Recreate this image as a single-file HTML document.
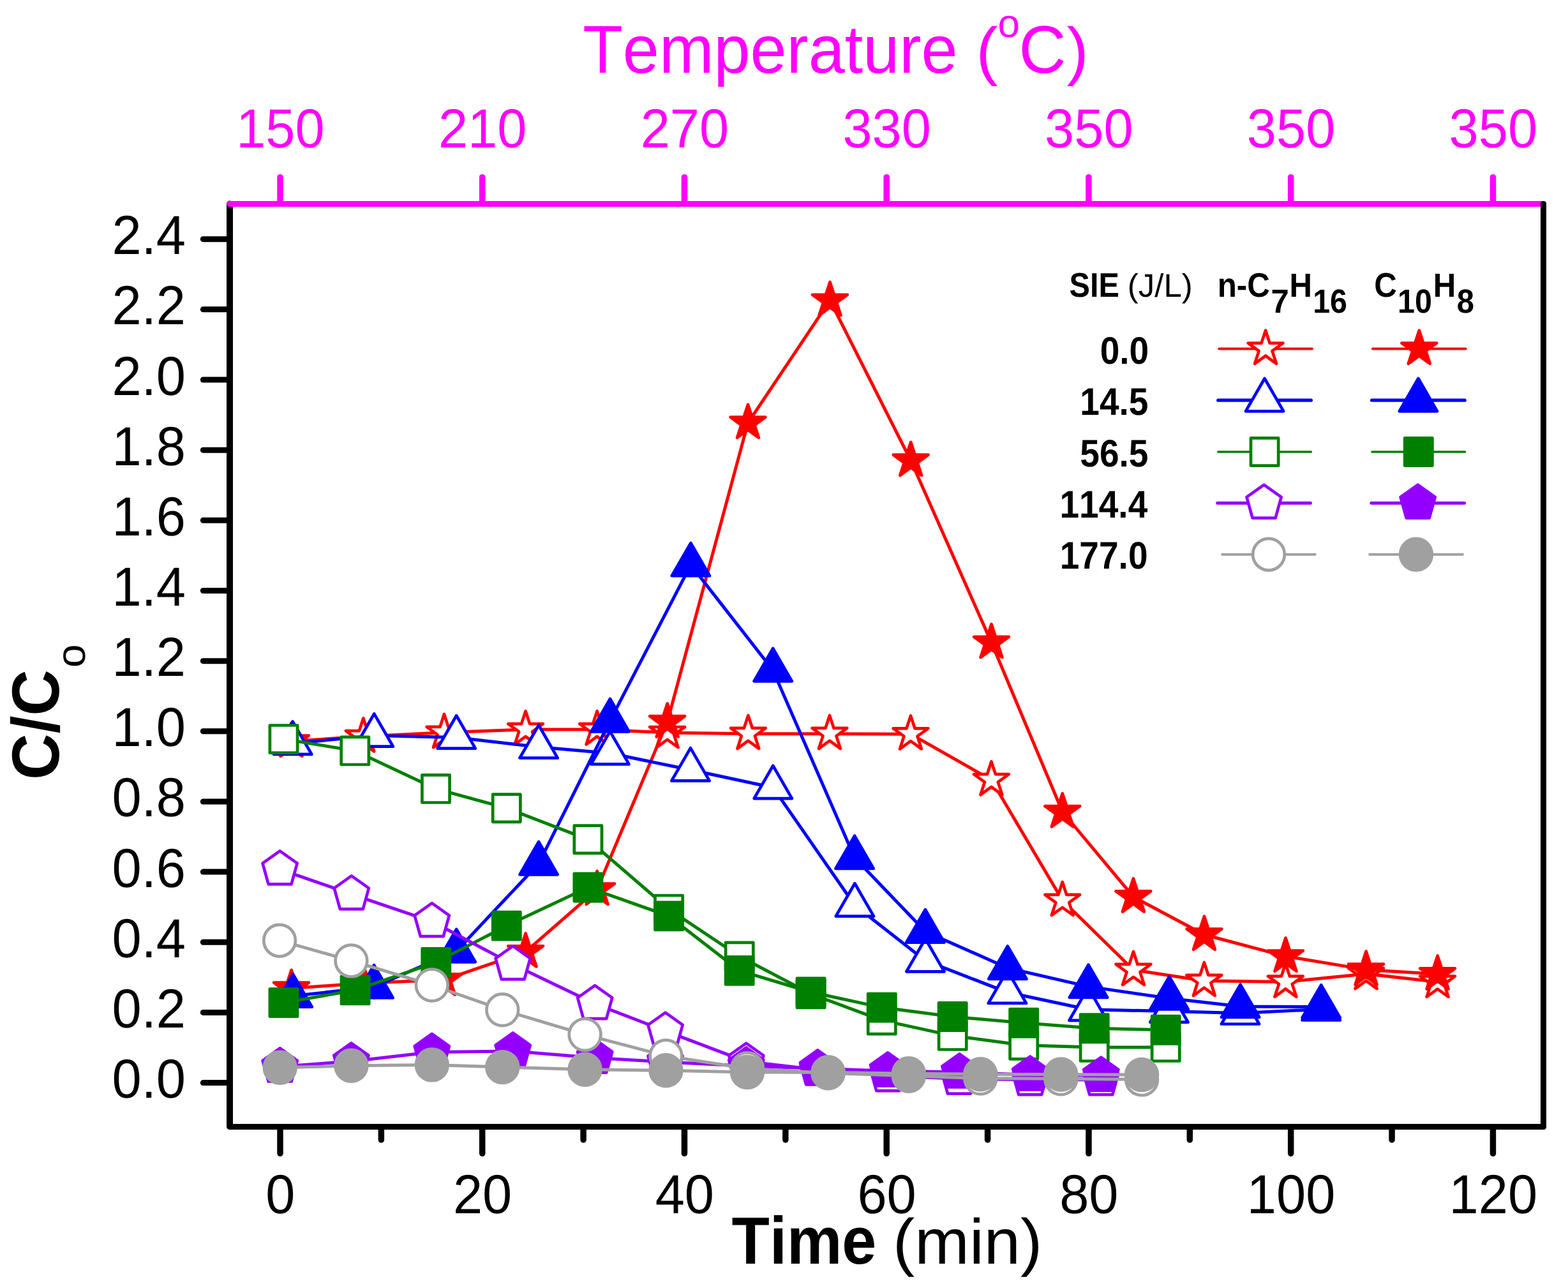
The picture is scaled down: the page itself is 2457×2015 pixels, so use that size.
<!DOCTYPE html>
<html lang="en">
<head>
<meta charset="utf-8">
<title>C/Co vs Time</title>
<style>
html, body { margin: 0; padding: 0; background: #fff; }
body { width: 2457px; height: 2015px; overflow: hidden; }
svg { display: block; }
</style>
</head>
<body>
<svg width="2457" height="2015" viewBox="0 0 2457 2015">
<rect width="2457" height="2015" fill="#fff"/>
<g id="plot" stroke-width="5" stroke-linejoin="round" stroke-linecap="round">
<g class="red_open">
<polyline fill="none" stroke="#ff0000" points="456.5,1161.5 569.3,1154.1 696,1147.8 823.6,1143 935.6,1143 1045.7,1147.9 1172.4,1149.7 1300,1149.7 1427,1150.2 1553.4,1222 1664.8,1410.8 1776,1519.8 1886.9,1536.7 2014.4,1538.5 2140.6,1525.9 2252.6,1538.6"/>
<g stroke-width="4.7">
<polygon points="456.5,1132.7 462.97,1152.6 483.89,1152.6 466.96,1164.9 473.43,1184.8 456.5,1172.5 439.57,1184.8 446.04,1164.9 429.11,1152.6 450.03,1152.6" fill="#fff" stroke="#ff0000"/>
<polygon points="569.3,1125.3 575.77,1145.2 596.69,1145.2 579.76,1157.5 586.23,1177.4 569.3,1165.1 552.37,1177.4 558.84,1157.5 541.91,1145.2 562.83,1145.2" fill="#fff" stroke="#ff0000"/>
<polygon points="696,1119 702.47,1138.9 723.39,1138.9 706.46,1151.2 712.93,1171.1 696,1158.8 679.07,1171.1 685.54,1151.2 668.61,1138.9 689.53,1138.9" fill="#fff" stroke="#ff0000"/>
<polygon points="823.6,1114.2 830.07,1134.1 850.99,1134.1 834.06,1146.4 840.53,1166.3 823.6,1154 806.67,1166.3 813.14,1146.4 796.21,1134.1 817.13,1134.1" fill="#fff" stroke="#ff0000"/>
<polygon points="935.6,1114.2 942.07,1134.1 962.99,1134.1 946.06,1146.4 952.53,1166.3 935.6,1154 918.67,1166.3 925.14,1146.4 908.21,1134.1 929.13,1134.1" fill="#fff" stroke="#ff0000"/>
<polygon points="1045.7,1119.1 1052.17,1139 1073.09,1139 1056.16,1151.3 1062.63,1171.2 1045.7,1158.9 1028.77,1171.2 1035.24,1151.3 1018.31,1139 1039.23,1139" fill="#fff" stroke="#ff0000"/>
<polygon points="1172.4,1120.9 1178.87,1140.8 1199.79,1140.8 1182.86,1153.1 1189.33,1173 1172.4,1160.7 1155.47,1173 1161.94,1153.1 1145.01,1140.8 1165.93,1140.8" fill="#fff" stroke="#ff0000"/>
<polygon points="1300,1120.9 1306.47,1140.8 1327.39,1140.8 1310.46,1153.1 1316.93,1173 1300,1160.7 1283.07,1173 1289.54,1153.1 1272.61,1140.8 1293.53,1140.8" fill="#fff" stroke="#ff0000"/>
<polygon points="1427,1121.4 1433.47,1141.3 1454.39,1141.3 1437.46,1153.6 1443.93,1173.5 1427,1161.2 1410.07,1173.5 1416.54,1153.6 1399.61,1141.3 1420.53,1141.3" fill="#fff" stroke="#ff0000"/>
<polygon points="1553.4,1193.2 1559.87,1213.1 1580.79,1213.1 1563.86,1225.4 1570.33,1245.3 1553.4,1233 1536.47,1245.3 1542.94,1225.4 1526.01,1213.1 1546.93,1213.1" fill="#fff" stroke="#ff0000"/>
<polygon points="1664.8,1382 1671.27,1401.9 1692.19,1401.9 1675.26,1414.2 1681.73,1434.1 1664.8,1421.8 1647.87,1434.1 1654.34,1414.2 1637.41,1401.9 1658.33,1401.9" fill="#fff" stroke="#ff0000"/>
<polygon points="1776,1491 1782.47,1510.9 1803.39,1510.9 1786.46,1523.2 1792.93,1543.1 1776,1530.8 1759.07,1543.1 1765.54,1523.2 1748.61,1510.9 1769.53,1510.9" fill="#fff" stroke="#ff0000"/>
<polygon points="1886.9,1507.9 1893.37,1527.8 1914.29,1527.8 1897.36,1540.1 1903.83,1560 1886.9,1547.7 1869.97,1560 1876.44,1540.1 1859.51,1527.8 1880.43,1527.8" fill="#fff" stroke="#ff0000"/>
<polygon points="2014.4,1509.7 2020.87,1529.6 2041.79,1529.6 2024.86,1541.9 2031.33,1561.8 2014.4,1549.5 1997.47,1561.8 2003.94,1541.9 1987.01,1529.6 2007.93,1529.6" fill="#fff" stroke="#ff0000"/>
<polygon points="2140.6,1497.1 2147.07,1517 2167.99,1517 2151.06,1529.3 2157.53,1549.2 2140.6,1536.9 2123.67,1549.2 2130.14,1529.3 2113.21,1517 2134.13,1517" fill="#fff" stroke="#ff0000"/>
<polygon points="2252.6,1509.8 2259.07,1529.7 2279.99,1529.7 2263.06,1542 2269.53,1561.9 2252.6,1549.6 2235.67,1561.9 2242.14,1542 2225.21,1529.7 2246.13,1529.7" fill="#fff" stroke="#ff0000"/>
</g>
</g>
<g class="red_fill">
<polyline fill="none" stroke="#ff0000" points="456.6,1548.6 569.3,1540.6 696,1535.3 823.6,1491.3 935.6,1393.6 1045.7,1131.1 1172,662.6 1300.5,470.7 1427.2,721.6 1553.5,1006.7 1664.8,1272 1775.9,1405.2 1887,1464.5 2014.5,1498.4 2140.6,1519.4 2252.6,1526.2"/>
<g stroke-width="4.7">
<polygon points="456.6,1519.8 463.07,1539.7 483.99,1539.7 467.06,1552 473.53,1571.9 456.6,1559.6 439.67,1571.9 446.14,1552 429.21,1539.7 450.13,1539.7" fill="#ff0000" stroke="#ff0000"/>
<polygon points="569.3,1511.8 575.77,1531.7 596.69,1531.7 579.76,1544 586.23,1563.9 569.3,1551.6 552.37,1563.9 558.84,1544 541.91,1531.7 562.83,1531.7" fill="#ff0000" stroke="#ff0000"/>
<polygon points="696,1506.5 702.47,1526.4 723.39,1526.4 706.46,1538.7 712.93,1558.6 696,1546.3 679.07,1558.6 685.54,1538.7 668.61,1526.4 689.53,1526.4" fill="#ff0000" stroke="#ff0000"/>
<polygon points="823.6,1462.5 830.07,1482.4 850.99,1482.4 834.06,1494.7 840.53,1514.6 823.6,1502.3 806.67,1514.6 813.14,1494.7 796.21,1482.4 817.13,1482.4" fill="#ff0000" stroke="#ff0000"/>
<polygon points="935.6,1364.8 942.07,1384.7 962.99,1384.7 946.06,1397 952.53,1416.9 935.6,1404.6 918.67,1416.9 925.14,1397 908.21,1384.7 929.13,1384.7" fill="#ff0000" stroke="#ff0000"/>
<polygon points="1045.7,1102.3 1052.17,1122.2 1073.09,1122.2 1056.16,1134.5 1062.63,1154.4 1045.7,1142.1 1028.77,1154.4 1035.24,1134.5 1018.31,1122.2 1039.23,1122.2" fill="#ff0000" stroke="#ff0000"/>
<polygon points="1172,633.8 1178.47,653.7 1199.39,653.7 1182.46,666 1188.93,685.9 1172,673.6 1155.07,685.9 1161.54,666 1144.61,653.7 1165.53,653.7" fill="#ff0000" stroke="#ff0000"/>
<polygon points="1300.5,441.9 1306.97,461.8 1327.89,461.8 1310.96,474.1 1317.43,494 1300.5,481.7 1283.57,494 1290.04,474.1 1273.11,461.8 1294.03,461.8" fill="#ff0000" stroke="#ff0000"/>
<polygon points="1427.2,692.8 1433.67,712.7 1454.59,712.7 1437.66,725 1444.13,744.9 1427.2,732.6 1410.27,744.9 1416.74,725 1399.81,712.7 1420.73,712.7" fill="#ff0000" stroke="#ff0000"/>
<polygon points="1553.5,977.9 1559.97,997.8 1580.89,997.8 1563.96,1010.1 1570.43,1030 1553.5,1017.7 1536.57,1030 1543.04,1010.1 1526.11,997.8 1547.03,997.8" fill="#ff0000" stroke="#ff0000"/>
<polygon points="1664.8,1243.2 1671.27,1263.1 1692.19,1263.1 1675.26,1275.4 1681.73,1295.3 1664.8,1283 1647.87,1295.3 1654.34,1275.4 1637.41,1263.1 1658.33,1263.1" fill="#ff0000" stroke="#ff0000"/>
<polygon points="1775.9,1376.4 1782.37,1396.3 1803.29,1396.3 1786.36,1408.6 1792.83,1428.5 1775.9,1416.2 1758.97,1428.5 1765.44,1408.6 1748.51,1396.3 1769.43,1396.3" fill="#ff0000" stroke="#ff0000"/>
<polygon points="1887,1435.7 1893.47,1455.6 1914.39,1455.6 1897.46,1467.9 1903.93,1487.8 1887,1475.5 1870.07,1487.8 1876.54,1467.9 1859.61,1455.6 1880.53,1455.6" fill="#ff0000" stroke="#ff0000"/>
<polygon points="2014.5,1469.6 2020.97,1489.5 2041.89,1489.5 2024.96,1501.8 2031.43,1521.7 2014.5,1509.4 1997.57,1521.7 2004.04,1501.8 1987.11,1489.5 2008.03,1489.5" fill="#ff0000" stroke="#ff0000"/>
<polygon points="2140.6,1490.6 2147.07,1510.5 2167.99,1510.5 2151.06,1522.8 2157.53,1542.7 2140.6,1530.4 2123.67,1542.7 2130.14,1522.8 2113.21,1510.5 2134.13,1510.5" fill="#ff0000" stroke="#ff0000"/>
<polygon points="2252.6,1497.4 2259.07,1517.3 2279.99,1517.3 2263.06,1529.6 2269.53,1549.5 2252.6,1537.2 2235.67,1549.5 2242.14,1529.6 2225.21,1517.3 2246.13,1517.3" fill="#ff0000" stroke="#ff0000"/>
</g>
</g>
<g class="blue_open">
<polyline fill="none" stroke="#0000ff" points="458.7,1164.8 586.3,1152.6 715.2,1155.5 844.1,1170.5 955.9,1180.3 1082,1206.3 1211.3,1234 1339.4,1418.5 1450,1505.2 1578.4,1554.8 1705.1,1581.7 1832,1584.6 1943.5,1587.4 2070.2,1581.4"/>
<g stroke-width="4.7">
<polygon points="458.7,1130.56 488.35,1181.92 429.05,1181.92" fill="#fff" stroke="#0000ff"/>
<polygon points="586.3,1118.36 615.95,1169.72 556.65,1169.72" fill="#fff" stroke="#0000ff"/>
<polygon points="715.2,1121.26 744.85,1172.62 685.55,1172.62" fill="#fff" stroke="#0000ff"/>
<polygon points="844.1,1136.26 873.75,1187.62 814.45,1187.62" fill="#fff" stroke="#0000ff"/>
<polygon points="955.9,1146.06 985.55,1197.42 926.25,1197.42" fill="#fff" stroke="#0000ff"/>
<polygon points="1082,1172.06 1111.65,1223.42 1052.35,1223.42" fill="#fff" stroke="#0000ff"/>
<polygon points="1211.3,1199.76 1240.95,1251.12 1181.65,1251.12" fill="#fff" stroke="#0000ff"/>
<polygon points="1339.4,1384.26 1369.05,1435.62 1309.75,1435.62" fill="#fff" stroke="#0000ff"/>
<polygon points="1450,1470.96 1479.65,1522.32 1420.35,1522.32" fill="#fff" stroke="#0000ff"/>
<polygon points="1578.4,1520.56 1608.05,1571.92 1548.75,1571.92" fill="#fff" stroke="#0000ff"/>
<polygon points="1705.1,1547.46 1734.75,1598.82 1675.45,1598.82" fill="#fff" stroke="#0000ff"/>
<polygon points="1832,1550.36 1861.65,1601.72 1802.35,1601.72" fill="#fff" stroke="#0000ff"/>
<polygon points="1943.5,1553.16 1973.15,1604.52 1913.85,1604.52" fill="#fff" stroke="#0000ff"/>
<polygon points="2070.2,1547.16 2099.85,1598.52 2040.55,1598.52" fill="#fff" stroke="#0000ff"/>
</g>
</g>
<g class="blue_fill">
<polyline fill="none" stroke="#0000ff" points="459.1,1560.6 586,1546.4 715.2,1490.2 844.1,1353.2 956,1129.2 1082.4,885.1 1211.2,1050.2 1339.1,1343.9 1449.9,1459.5 1578.9,1516.7 1705.5,1545.9 1832.2,1564.3 1943.6,1576.9 2070.2,1577.6"/>
<g stroke-width="4.7">
<polygon points="459.1,1526.36 488.75,1577.72 429.45,1577.72" fill="#0000ff" stroke="#0000ff"/>
<polygon points="586,1512.16 615.65,1563.52 556.35,1563.52" fill="#0000ff" stroke="#0000ff"/>
<polygon points="715.2,1455.96 744.85,1507.32 685.55,1507.32" fill="#0000ff" stroke="#0000ff"/>
<polygon points="844.1,1318.96 873.75,1370.32 814.45,1370.32" fill="#0000ff" stroke="#0000ff"/>
<polygon points="956,1094.96 985.65,1146.32 926.35,1146.32" fill="#0000ff" stroke="#0000ff"/>
<polygon points="1082.4,850.86 1112.05,902.22 1052.75,902.22" fill="#0000ff" stroke="#0000ff"/>
<polygon points="1211.2,1015.96 1240.85,1067.32 1181.55,1067.32" fill="#0000ff" stroke="#0000ff"/>
<polygon points="1339.1,1309.66 1368.75,1361.02 1309.45,1361.02" fill="#0000ff" stroke="#0000ff"/>
<polygon points="1449.9,1425.26 1479.55,1476.62 1420.25,1476.62" fill="#0000ff" stroke="#0000ff"/>
<polygon points="1578.9,1482.46 1608.55,1533.82 1549.25,1533.82" fill="#0000ff" stroke="#0000ff"/>
<polygon points="1705.5,1511.66 1735.15,1563.02 1675.85,1563.02" fill="#0000ff" stroke="#0000ff"/>
<polygon points="1832.2,1530.06 1861.85,1581.42 1802.55,1581.42" fill="#0000ff" stroke="#0000ff"/>
<polygon points="1943.6,1542.66 1973.25,1594.02 1913.95,1594.02" fill="#0000ff" stroke="#0000ff"/>
<polygon points="2070.2,1543.36 2099.85,1594.72 2040.55,1594.72" fill="#0000ff" stroke="#0000ff"/>
</g>
</g>
<g class="green_open">
<polyline fill="none" stroke="#008000" points="444.5,1158.1 556.3,1176.4 683,1235.9 793.8,1266.2 921.4,1315.3 1048.1,1424.6 1158.7,1498.5 1270.6,1557.3 1381.8,1598.6 1492.7,1622.9 1604.2,1637.7 1714.7,1640.9 1826.7,1640.9"/>
<g stroke-width="4.7">
<rect x="422.9" y="1136.5" width="43.2" height="43.2" fill="#fff" stroke="#008000"/>
<rect x="534.7" y="1154.8" width="43.2" height="43.2" fill="#fff" stroke="#008000"/>
<rect x="661.4" y="1214.3" width="43.2" height="43.2" fill="#fff" stroke="#008000"/>
<rect x="772.2" y="1244.6" width="43.2" height="43.2" fill="#fff" stroke="#008000"/>
<rect x="899.8" y="1293.7" width="43.2" height="43.2" fill="#fff" stroke="#008000"/>
<rect x="1026.5" y="1403" width="43.2" height="43.2" fill="#fff" stroke="#008000"/>
<rect x="1137.1" y="1476.9" width="43.2" height="43.2" fill="#fff" stroke="#008000"/>
<rect x="1249" y="1535.7" width="43.2" height="43.2" fill="#fff" stroke="#008000"/>
<rect x="1360.2" y="1577" width="43.2" height="43.2" fill="#fff" stroke="#008000"/>
<rect x="1471.1" y="1601.3" width="43.2" height="43.2" fill="#fff" stroke="#008000"/>
<rect x="1582.6" y="1616.1" width="43.2" height="43.2" fill="#fff" stroke="#008000"/>
<rect x="1693.1" y="1619.3" width="43.2" height="43.2" fill="#fff" stroke="#008000"/>
<rect x="1805.1" y="1619.3" width="43.2" height="43.2" fill="#fff" stroke="#008000"/>
</g>
</g>
<g class="green_fill">
<polyline fill="none" stroke="#008000" points="444.5,1571.1 556.6,1551.4 683.3,1507.9 793.8,1450.6 921.4,1390.5 1048.1,1435.4 1158.7,1520.9 1270.6,1554.5 1381.8,1578.6 1492.7,1593 1604.2,1602.7 1714.7,1611.3 1826.7,1613.7"/>
<g stroke-width="4.7">
<rect x="422.9" y="1549.5" width="43.2" height="43.2" fill="#008000" stroke="#008000"/>
<rect x="535" y="1529.8" width="43.2" height="43.2" fill="#008000" stroke="#008000"/>
<rect x="661.7" y="1486.3" width="43.2" height="43.2" fill="#008000" stroke="#008000"/>
<rect x="772.2" y="1429" width="43.2" height="43.2" fill="#008000" stroke="#008000"/>
<rect x="899.8" y="1368.9" width="43.2" height="43.2" fill="#008000" stroke="#008000"/>
<rect x="1026.5" y="1413.8" width="43.2" height="43.2" fill="#008000" stroke="#008000"/>
<rect x="1137.1" y="1499.3" width="43.2" height="43.2" fill="#008000" stroke="#008000"/>
<rect x="1249" y="1532.9" width="43.2" height="43.2" fill="#008000" stroke="#008000"/>
<rect x="1360.2" y="1557" width="43.2" height="43.2" fill="#008000" stroke="#008000"/>
<rect x="1471.1" y="1571.4" width="43.2" height="43.2" fill="#008000" stroke="#008000"/>
<rect x="1582.6" y="1581.1" width="43.2" height="43.2" fill="#008000" stroke="#008000"/>
<rect x="1693.1" y="1589.7" width="43.2" height="43.2" fill="#008000" stroke="#008000"/>
<rect x="1805.1" y="1592.1" width="43.2" height="43.2" fill="#008000" stroke="#008000"/>
</g>
</g>
<g class="purple_open">
<polyline fill="none" stroke="#9400ff" points="438.6,1362.1 550.8,1401.1 676.8,1443.8 803.7,1511.1 932.2,1572.8 1042.6,1615.3 1169.3,1663.3 1281.2,1676.1 1391.3,1685.8 1503,1690.3 1614.2,1691.8 1725.3,1691.8"/>
<g stroke-width="4.7">
<polygon points="438.6,1333.4 465.7,1352.7 456.6,1385.4 420.6,1385.4 411.5,1352.7" fill="#fff" stroke="#9400ff"/>
<polygon points="550.8,1372.4 577.9,1391.7 568.8,1424.4 532.8,1424.4 523.7,1391.7" fill="#fff" stroke="#9400ff"/>
<polygon points="676.8,1415.1 703.9,1434.4 694.8,1467.1 658.8,1467.1 649.7,1434.4" fill="#fff" stroke="#9400ff"/>
<polygon points="803.7,1482.4 830.8,1501.7 821.7,1534.4 785.7,1534.4 776.6,1501.7" fill="#fff" stroke="#9400ff"/>
<polygon points="932.2,1544.1 959.3,1563.4 950.2,1596.1 914.2,1596.1 905.1,1563.4" fill="#fff" stroke="#9400ff"/>
<polygon points="1042.6,1586.6 1069.7,1605.9 1060.6,1638.6 1024.6,1638.6 1015.5,1605.9" fill="#fff" stroke="#9400ff"/>
<polygon points="1169.3,1634.6 1196.4,1653.9 1187.3,1686.6 1151.3,1686.6 1142.2,1653.9" fill="#fff" stroke="#9400ff"/>
<polygon points="1281.2,1647.4 1308.3,1666.7 1299.2,1699.4 1263.2,1699.4 1254.1,1666.7" fill="#fff" stroke="#9400ff"/>
<polygon points="1391.3,1657.1 1418.4,1676.4 1409.3,1709.1 1373.3,1709.1 1364.2,1676.4" fill="#fff" stroke="#9400ff"/>
<polygon points="1503,1661.6 1530.1,1680.9 1521,1713.6 1485,1713.6 1475.9,1680.9" fill="#fff" stroke="#9400ff"/>
<polygon points="1614.2,1663.1 1641.3,1682.4 1632.2,1715.1 1596.2,1715.1 1587.1,1682.4" fill="#fff" stroke="#9400ff"/>
<polygon points="1725.3,1663.1 1752.4,1682.4 1743.3,1715.1 1707.3,1715.1 1698.2,1682.4" fill="#fff" stroke="#9400ff"/>
</g>
</g>
<g class="purple_fill">
<polyline fill="none" stroke="#9400ff" points="438.7,1671.2 550.4,1663 676.8,1648.5 803.7,1647.1 932.2,1657.4 1042.6,1664 1169.3,1670.2 1281.2,1674.2 1391.1,1678 1503.5,1680 1614.2,1684.2 1725.3,1685.3"/>
<g stroke-width="4.7">
<polygon points="438.7,1642.5 465.8,1661.8 456.7,1694.5 420.7,1694.5 411.6,1661.8" fill="#9400ff" stroke="#9400ff"/>
<polygon points="550.4,1634.3 577.5,1653.6 568.4,1686.3 532.4,1686.3 523.3,1653.6" fill="#9400ff" stroke="#9400ff"/>
<polygon points="676.8,1619.8 703.9,1639.1 694.8,1671.8 658.8,1671.8 649.7,1639.1" fill="#9400ff" stroke="#9400ff"/>
<polygon points="803.7,1618.4 830.8,1637.7 821.7,1670.4 785.7,1670.4 776.6,1637.7" fill="#9400ff" stroke="#9400ff"/>
<polygon points="932.2,1628.7 959.3,1648 950.2,1680.7 914.2,1680.7 905.1,1648" fill="#9400ff" stroke="#9400ff"/>
<polygon points="1042.6,1635.3 1069.7,1654.6 1060.6,1687.3 1024.6,1687.3 1015.5,1654.6" fill="#9400ff" stroke="#9400ff"/>
<polygon points="1169.3,1641.5 1196.4,1660.8 1187.3,1693.5 1151.3,1693.5 1142.2,1660.8" fill="#9400ff" stroke="#9400ff"/>
<polygon points="1281.2,1645.5 1308.3,1664.8 1299.2,1697.5 1263.2,1697.5 1254.1,1664.8" fill="#9400ff" stroke="#9400ff"/>
<polygon points="1391.1,1649.3 1418.2,1668.6 1409.1,1701.3 1373.1,1701.3 1364,1668.6" fill="#9400ff" stroke="#9400ff"/>
<polygon points="1503.5,1651.3 1530.6,1670.6 1521.5,1703.3 1485.5,1703.3 1476.4,1670.6" fill="#9400ff" stroke="#9400ff"/>
<polygon points="1614.2,1655.5 1641.3,1674.8 1632.2,1707.5 1596.2,1707.5 1587.1,1674.8" fill="#9400ff" stroke="#9400ff"/>
<polygon points="1725.3,1656.6 1752.4,1675.9 1743.3,1708.6 1707.3,1708.6 1698.2,1675.9" fill="#9400ff" stroke="#9400ff"/>
</g>
</g>
<g class="gray_open">
<polyline fill="none" stroke="#a0a0a0" points="438.1,1473.7 550.4,1505.4 676.8,1543.5 787.3,1582.3 916.6,1621.1 1043.5,1654.5 1171,1674.3 1297.6,1681.3 1423.9,1685.8 1536.3,1689.5 1662.4,1690.3 1789.1,1691.4"/>
<g stroke-width="4.7">
<circle cx="438.1" cy="1473.7" r="24.85" fill="#fff" stroke="#a0a0a0"/>
<circle cx="550.4" cy="1505.4" r="24.85" fill="#fff" stroke="#a0a0a0"/>
<circle cx="676.8" cy="1543.5" r="24.85" fill="#fff" stroke="#a0a0a0"/>
<circle cx="787.3" cy="1582.3" r="24.85" fill="#fff" stroke="#a0a0a0"/>
<circle cx="916.6" cy="1621.1" r="24.85" fill="#fff" stroke="#a0a0a0"/>
<circle cx="1043.5" cy="1654.5" r="24.85" fill="#fff" stroke="#a0a0a0"/>
<circle cx="1171" cy="1674.3" r="24.85" fill="#fff" stroke="#a0a0a0"/>
<circle cx="1297.6" cy="1681.3" r="24.85" fill="#fff" stroke="#a0a0a0"/>
<circle cx="1423.9" cy="1685.8" r="24.85" fill="#fff" stroke="#a0a0a0"/>
<circle cx="1536.3" cy="1689.5" r="24.85" fill="#fff" stroke="#a0a0a0"/>
<circle cx="1662.4" cy="1690.3" r="24.85" fill="#fff" stroke="#a0a0a0"/>
<circle cx="1789.1" cy="1691.4" r="24.85" fill="#fff" stroke="#a0a0a0"/>
</g>
</g>
<g class="gray_fill">
<polyline fill="none" stroke="#a0a0a0" points="438.7,1672.8 550.4,1669.8 676.8,1668.4 787.3,1672.1 916.6,1675.8 1043.5,1677.2 1171,1679.9 1297.6,1680.3 1423.9,1682.2 1536.3,1683.2 1662.4,1683.5 1789.1,1684"/>
<g stroke-width="4.7">
<circle cx="438.7" cy="1672.8" r="24.85" fill="#a0a0a0" stroke="#a0a0a0"/>
<circle cx="550.4" cy="1669.8" r="24.85" fill="#a0a0a0" stroke="#a0a0a0"/>
<circle cx="676.8" cy="1668.4" r="24.85" fill="#a0a0a0" stroke="#a0a0a0"/>
<circle cx="787.3" cy="1672.1" r="24.85" fill="#a0a0a0" stroke="#a0a0a0"/>
<circle cx="916.6" cy="1675.8" r="24.85" fill="#a0a0a0" stroke="#a0a0a0"/>
<circle cx="1043.5" cy="1677.2" r="24.85" fill="#a0a0a0" stroke="#a0a0a0"/>
<circle cx="1171" cy="1679.9" r="24.85" fill="#a0a0a0" stroke="#a0a0a0"/>
<circle cx="1297.6" cy="1680.3" r="24.85" fill="#a0a0a0" stroke="#a0a0a0"/>
<circle cx="1423.9" cy="1682.2" r="24.85" fill="#a0a0a0" stroke="#a0a0a0"/>
<circle cx="1536.3" cy="1683.2" r="24.85" fill="#a0a0a0" stroke="#a0a0a0"/>
<circle cx="1662.4" cy="1683.5" r="24.85" fill="#a0a0a0" stroke="#a0a0a0"/>
<circle cx="1789.1" cy="1684" r="24.85" fill="#a0a0a0" stroke="#a0a0a0"/>
</g>
</g>
</g>
<g id="axes" stroke-linecap="round" fill="none">
<g stroke="#000">
<line x1="360" y1="319.45" x2="360" y2="1765" stroke-width="10"/>
<line x1="360" y1="1765.5" x2="2418.5" y2="1765.5" stroke-width="9"/>
<line x1="318.3" y1="1696.6" x2="360" y2="1696.6" stroke-width="9"/>
<line x1="318.3" y1="1586.44" x2="360" y2="1586.44" stroke-width="9"/>
<line x1="318.3" y1="1476.28" x2="360" y2="1476.28" stroke-width="9"/>
<line x1="318.3" y1="1366.12" x2="360" y2="1366.12" stroke-width="9"/>
<line x1="318.3" y1="1255.96" x2="360" y2="1255.96" stroke-width="9"/>
<line x1="318.3" y1="1145.8" x2="360" y2="1145.8" stroke-width="9"/>
<line x1="318.3" y1="1035.64" x2="360" y2="1035.64" stroke-width="9"/>
<line x1="318.3" y1="925.48" x2="360" y2="925.48" stroke-width="9"/>
<line x1="318.3" y1="815.32" x2="360" y2="815.32" stroke-width="9"/>
<line x1="318.3" y1="705.16" x2="360" y2="705.16" stroke-width="9"/>
<line x1="318.3" y1="595" x2="360" y2="595" stroke-width="9"/>
<line x1="318.3" y1="484.84" x2="360" y2="484.84" stroke-width="9"/>
<line x1="318.3" y1="374.68" x2="360" y2="374.68" stroke-width="9"/>
<line x1="439" y1="1766.5" x2="439" y2="1807.3" stroke-width="9.5"/>
<line x1="597.37" y1="1766.5" x2="597.37" y2="1786" stroke-width="9.5"/>
<line x1="755.74" y1="1766.5" x2="755.74" y2="1807.3" stroke-width="9.5"/>
<line x1="914.11" y1="1766.5" x2="914.11" y2="1786" stroke-width="9.5"/>
<line x1="1072.48" y1="1766.5" x2="1072.48" y2="1807.3" stroke-width="9.5"/>
<line x1="1230.85" y1="1766.5" x2="1230.85" y2="1786" stroke-width="9.5"/>
<line x1="1389.22" y1="1766.5" x2="1389.22" y2="1807.3" stroke-width="9.5"/>
<line x1="1547.59" y1="1766.5" x2="1547.59" y2="1786" stroke-width="9.5"/>
<line x1="1705.96" y1="1766.5" x2="1705.96" y2="1807.3" stroke-width="9.5"/>
<line x1="1864.33" y1="1766.5" x2="1864.33" y2="1786" stroke-width="9.5"/>
<line x1="2022.7" y1="1766.5" x2="2022.7" y2="1807.3" stroke-width="9.5"/>
<line x1="2181.07" y1="1766.5" x2="2181.07" y2="1786" stroke-width="9.5"/>
<line x1="2339.44" y1="1766.5" x2="2339.44" y2="1807.3" stroke-width="9.5"/>
</g>
<g stroke="#ff00ff">
<line x1="360" y1="319.45" x2="2418.5" y2="319.45" stroke-width="9"/>
<line x1="439" y1="318.45" x2="439" y2="277.65" stroke-width="9.5"/>
<line x1="755.74" y1="318.45" x2="755.74" y2="277.65" stroke-width="9.5"/>
<line x1="1072.48" y1="318.45" x2="1072.48" y2="277.65" stroke-width="9.5"/>
<line x1="1389.22" y1="318.45" x2="1389.22" y2="277.65" stroke-width="9.5"/>
<line x1="1705.96" y1="318.45" x2="1705.96" y2="277.65" stroke-width="9.5"/>
<line x1="2022.7" y1="318.45" x2="2022.7" y2="277.65" stroke-width="9.5"/>
<line x1="2339.44" y1="318.45" x2="2339.44" y2="277.65" stroke-width="9.5"/>
</g>
<g stroke="#000"><line x1="2418.5" y1="319.45" x2="2418.5" y2="1765.5" stroke-width="9"/></g>
</g>
<g id="legend" stroke-width="5" stroke-linejoin="round" stroke-linecap="round">
<line x1="1910.3" y1="546.5" x2="2055.9" y2="546.5" stroke="#ff0000" stroke-width="4.2"/>
<polygon points="1983.1,517.7 1989.57,537.6 2010.49,537.6 1993.56,549.9 2000.03,569.8 1983.1,557.5 1966.17,569.8 1972.64,549.9 1955.71,537.6 1976.63,537.6" fill="#fff" stroke="#ff0000" stroke-width="4.7"/>
<line x1="2151" y1="546.5" x2="2296.6" y2="546.5" stroke="#ff0000" stroke-width="4.2"/>
<polygon points="2223.8,517.7 2230.27,537.6 2251.19,537.6 2234.26,549.9 2240.73,569.8 2223.8,557.5 2206.87,569.8 2213.34,549.9 2196.41,537.6 2217.33,537.6" fill="#ff0000" stroke="#ff0000" stroke-width="4.7"/>
<line x1="1908.8" y1="627.2" x2="2054.4" y2="627.2" stroke="#0000ff" stroke-width="5.2"/>
<polygon points="1981.6,592.96 2011.25,644.32 1951.95,644.32" fill="#fff" stroke="#0000ff" stroke-width="4.7"/>
<line x1="2149.6" y1="627.2" x2="2295.2" y2="627.2" stroke="#0000ff" stroke-width="5.2"/>
<polygon points="2222.4,592.96 2252.05,644.32 2192.75,644.32" fill="#0000ff" stroke="#0000ff" stroke-width="4.7"/>
<line x1="1908.8" y1="708" x2="2054.4" y2="708" stroke="#008000" stroke-width="3.6"/>
<rect x="1960" y="686.4" width="43.2" height="43.2" fill="#fff" stroke="#008000" stroke-width="4.7"/>
<line x1="2150" y1="708" x2="2295.6" y2="708" stroke="#008000" stroke-width="3.6"/>
<rect x="2201.2" y="686.4" width="43.2" height="43.2" fill="#008000" stroke="#008000" stroke-width="4.7"/>
<line x1="1907.8" y1="788.3" x2="2053.4" y2="788.3" stroke="#9400ff" stroke-width="5"/>
<polygon points="1980.6,759.6 2007.7,778.9 1998.6,811.6 1962.6,811.6 1953.5,778.9" fill="#fff" stroke="#9400ff" stroke-width="4.7"/>
<line x1="2148.9" y1="788.3" x2="2294.5" y2="788.3" stroke="#9400ff" stroke-width="5"/>
<polygon points="2221.7,759.6 2248.8,778.9 2239.7,811.6 2203.7,811.6 2194.6,778.9" fill="#9400ff" stroke="#9400ff" stroke-width="4.7"/>
<line x1="1915.2" y1="868.7" x2="2060.8" y2="868.7" stroke="#a0a0a0" stroke-width="4"/>
<circle cx="1988" cy="868.7" r="24.85" fill="#fff" stroke="#a0a0a0" stroke-width="4.7"/>
<line x1="2146.2" y1="868.7" x2="2291.8" y2="868.7" stroke="#a0a0a0" stroke-width="4"/>
<circle cx="2219" cy="868.7" r="24.85" fill="#a0a0a0" stroke="#a0a0a0" stroke-width="4.7"/>
</g>
<g id="labels" font-family="'Liberation Sans', sans-serif" style="font-kerning:none" text-rendering="geometricPrecision">
<text fill="#ff00ff"><tspan x="370.16" y="231" font-size="86.32" textLength="138.48" lengthAdjust="spacingAndGlyphs">150</tspan></text>
<text fill="#ff00ff"><tspan x="686.9" y="231" font-size="86.32" textLength="138.48" lengthAdjust="spacingAndGlyphs">210</tspan></text>
<text fill="#ff00ff"><tspan x="1003.64" y="231" font-size="86.32" textLength="138.48" lengthAdjust="spacingAndGlyphs">270</tspan></text>
<text fill="#ff00ff"><tspan x="1320.38" y="231" font-size="86.32" textLength="138.48" lengthAdjust="spacingAndGlyphs">330</tspan></text>
<text fill="#ff00ff"><tspan x="1637.12" y="231" font-size="86.32" textLength="138.48" lengthAdjust="spacingAndGlyphs">350</tspan></text>
<text fill="#ff00ff"><tspan x="1953.86" y="231" font-size="86.32" textLength="138.48" lengthAdjust="spacingAndGlyphs">350</tspan></text>
<text fill="#ff00ff"><tspan x="2270.6" y="231" font-size="86.32" textLength="138.48" lengthAdjust="spacingAndGlyphs">350</tspan></text>
<text fill="#000"><tspan x="416.32" y="1901" font-size="86.32" textLength="46.16" lengthAdjust="spacingAndGlyphs">0</tspan></text>
<text fill="#000"><tspan x="709.98" y="1901" font-size="86.32" textLength="92.32" lengthAdjust="spacingAndGlyphs">20</tspan></text>
<text fill="#000"><tspan x="1026.72" y="1901" font-size="86.32" textLength="92.32" lengthAdjust="spacingAndGlyphs">40</tspan></text>
<text fill="#000"><tspan x="1343.46" y="1901" font-size="86.32" textLength="92.32" lengthAdjust="spacingAndGlyphs">60</tspan></text>
<text fill="#000"><tspan x="1660.2" y="1901" font-size="86.32" textLength="92.32" lengthAdjust="spacingAndGlyphs">80</tspan></text>
<text fill="#000"><tspan x="1953.86" y="1901" font-size="86.32" textLength="138.48" lengthAdjust="spacingAndGlyphs">100</tspan></text>
<text fill="#000"><tspan x="2270.6" y="1901" font-size="86.32" textLength="138.48" lengthAdjust="spacingAndGlyphs">120</tspan></text>
<text fill="#000"><tspan x="175.62" y="1720.1" font-size="86.32" textLength="115.38" lengthAdjust="spacingAndGlyphs">0.0</tspan></text>
<text fill="#000"><tspan x="175.62" y="1609.94" font-size="86.32" textLength="115.38" lengthAdjust="spacingAndGlyphs">0.2</tspan></text>
<text fill="#000"><tspan x="175.62" y="1499.78" font-size="86.32" textLength="115.38" lengthAdjust="spacingAndGlyphs">0.4</tspan></text>
<text fill="#000"><tspan x="175.62" y="1389.62" font-size="86.32" textLength="115.38" lengthAdjust="spacingAndGlyphs">0.6</tspan></text>
<text fill="#000"><tspan x="175.62" y="1279.46" font-size="86.32" textLength="115.38" lengthAdjust="spacingAndGlyphs">0.8</tspan></text>
<text fill="#000"><tspan x="175.62" y="1169.3" font-size="86.32" textLength="115.38" lengthAdjust="spacingAndGlyphs">1.0</tspan></text>
<text fill="#000"><tspan x="175.62" y="1059.14" font-size="86.32" textLength="115.38" lengthAdjust="spacingAndGlyphs">1.2</tspan></text>
<text fill="#000"><tspan x="175.62" y="948.98" font-size="86.32" textLength="115.38" lengthAdjust="spacingAndGlyphs">1.4</tspan></text>
<text fill="#000"><tspan x="175.62" y="838.82" font-size="86.32" textLength="115.38" lengthAdjust="spacingAndGlyphs">1.6</tspan></text>
<text fill="#000"><tspan x="175.62" y="728.66" font-size="86.32" textLength="115.38" lengthAdjust="spacingAndGlyphs">1.8</tspan></text>
<text fill="#000"><tspan x="175.62" y="618.5" font-size="86.32" textLength="115.38" lengthAdjust="spacingAndGlyphs">2.0</tspan></text>
<text fill="#000"><tspan x="175.62" y="508.34" font-size="86.32" textLength="115.38" lengthAdjust="spacingAndGlyphs">2.2</tspan></text>
<text fill="#000"><tspan x="175.62" y="398.18" font-size="86.32" textLength="115.38" lengthAdjust="spacingAndGlyphs">2.4</tspan></text>
<text fill="#ff00ff"><tspan x="913.2" y="114.2" font-size="106.19" textLength="587.34" lengthAdjust="spacingAndGlyphs">Temperature</tspan><tspan x="1501.03" y="114.2" font-size="101.06" textLength="62.67" lengthAdjust="spacingAndGlyphs"> (</tspan><tspan x="1563.6" y="58" font-size="62" textLength="34.48" lengthAdjust="spacingAndGlyphs">o</tspan><tspan x="1596.59" y="114.2" font-size="105.68" textLength="74.09" lengthAdjust="spacingAndGlyphs">C</tspan><tspan x="1671.6" y="114.2" font-size="101.06" textLength="34.17" lengthAdjust="spacingAndGlyphs">)</tspan></text>
<text fill="#000"><tspan x="1146.61" y="1980" font-size="104.8" font-weight="bold" textLength="226.63" lengthAdjust="spacingAndGlyphs">Time</tspan><tspan x="1370.56" y="1980" font-size="100.23" textLength="262.67" lengthAdjust="spacingAndGlyphs"> (min)</tspan></text>
<text fill="#000" transform="translate(91.7,1221.7) rotate(-90)"><tspan x="0" y="0" font-size="105.01" font-weight="bold" textLength="172.56" lengthAdjust="spacingAndGlyphs">C/C</tspan><tspan x="175.7" y="41.3" font-size="63" textLength="36.44" lengthAdjust="spacingAndGlyphs">o</tspan></text>
<text fill="#000"><tspan x="1675.6" y="465" font-size="53.56" font-weight="bold" textLength="78.37" lengthAdjust="spacingAndGlyphs">SIE</tspan><tspan x="1752.68" y="465" font-size="51.22" textLength="116.08" lengthAdjust="spacingAndGlyphs"> (J/L)</tspan></text>
<text fill="#000"><tspan x="1907.64" y="465" font-size="53.5" font-weight="bold" textLength="82.47" lengthAdjust="spacingAndGlyphs">n-C</tspan><tspan x="1991.61" y="490" font-size="52.53" font-weight="bold" textLength="28.36" lengthAdjust="spacingAndGlyphs">7</tspan><tspan x="2020.61" y="465" font-size="52.53" font-weight="bold" textLength="35.54" lengthAdjust="spacingAndGlyphs">H</tspan><tspan x="2057.15" y="490" font-size="52.53" font-weight="bold" textLength="53.89" lengthAdjust="spacingAndGlyphs">16</tspan></text>
<text fill="#000"><tspan x="2153.27" y="465" font-size="53.55" font-weight="bold" textLength="35.73" lengthAdjust="spacingAndGlyphs">C</tspan><tspan x="2189.95" y="490" font-size="52.53" font-weight="bold" textLength="53.89" lengthAdjust="spacingAndGlyphs">10</tspan><tspan x="2245.81" y="465" font-size="52.53" font-weight="bold" textLength="35.54" lengthAdjust="spacingAndGlyphs">H</tspan><tspan x="2282.75" y="490" font-size="52.53" font-weight="bold" textLength="27.23" lengthAdjust="spacingAndGlyphs">8</tspan></text>
<text fill="#000"><tspan x="1723.66" y="569.5" font-size="60.32" font-weight="bold" textLength="76.6" lengthAdjust="spacingAndGlyphs">0.0</tspan></text>
<text fill="#000"><tspan x="1692.29" y="650" font-size="60.32" font-weight="bold" textLength="107.24" lengthAdjust="spacingAndGlyphs">14.5</tspan></text>
<text fill="#000"><tspan x="1692.29" y="730.5" font-size="60.32" font-weight="bold" textLength="107.24" lengthAdjust="spacingAndGlyphs">56.5</tspan></text>
<text fill="#000"><tspan x="1660.41" y="811" font-size="60.32" font-weight="bold" textLength="137.88" lengthAdjust="spacingAndGlyphs">114.4</tspan></text>
<text fill="#000"><tspan x="1660.68" y="891" font-size="60.32" font-weight="bold" textLength="137.88" lengthAdjust="spacingAndGlyphs">177.0</tspan></text>
</g>
</svg>
</body>
</html>
